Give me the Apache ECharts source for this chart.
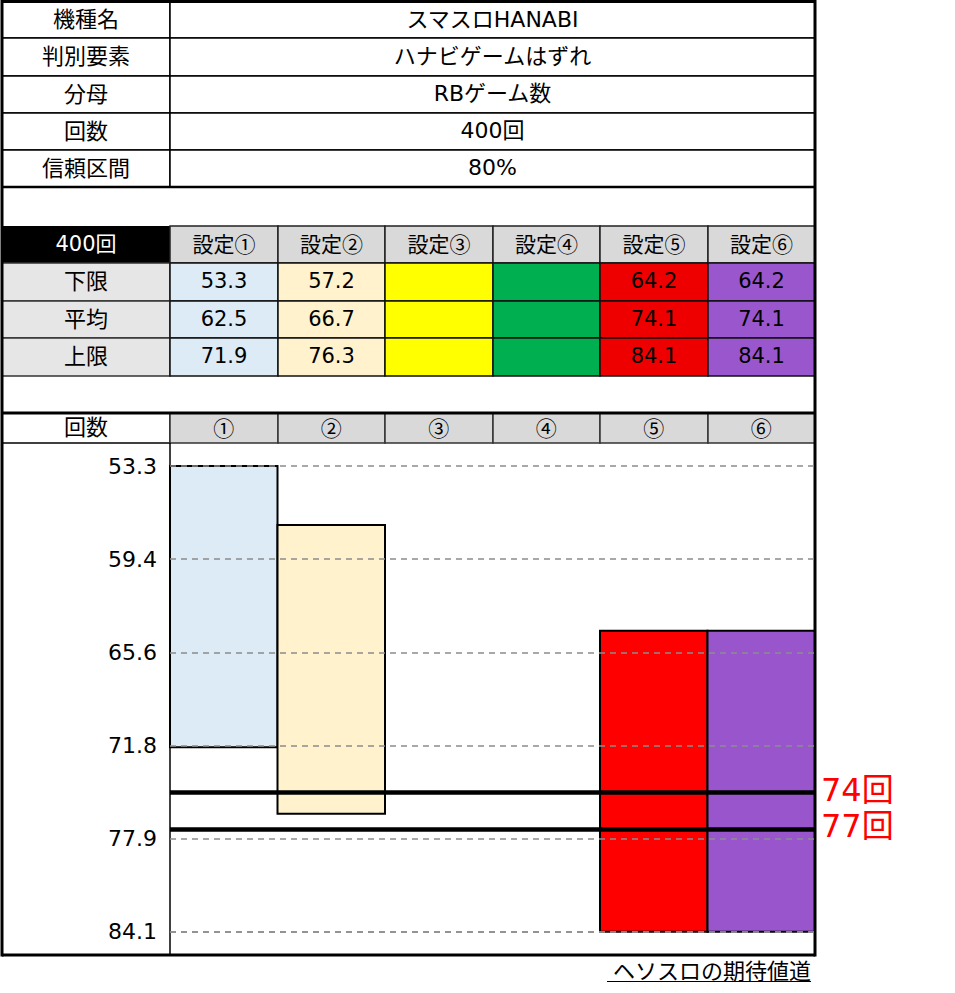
<!DOCTYPE html>
<html><head><meta charset="utf-8">
<script src="https://cdn.jsdelivr.net/npm/echarts@6/dist/echarts.min.js"></script>
<style>html,body{margin:0;padding:0;background:#fff}#c{width:955px;height:993px}</style>
</head><body><div id="c"></div>
<script>
// ---- data ----
const infoLabels = ['機種名', '判別要素', '分母', '回数', '信頼区間'];
const infoValues = ['スマスロHANABI', 'ハナビゲームはずれ', 'RBゲーム数', '400回', '80%'];
const sampleLabel = '400回';
const settingNames = ['設定①', '設定②', '設定③', '設定④', '設定⑤', '設定⑥'];
const rowNames = ['下限', '平均', '上限'];
const lowerBound = [53.3, 57.2, null, null, 64.2, 64.2];
const meanValue = [62.5, 66.7, null, null, 74.1, 74.1];
const upperBound = [71.9, 76.3, null, null, 84.1, 84.1];
const chartHeader = '回数';
const categories = ['①', '②', '③', '④', '⑤', '⑥'];
const yTickLabels = ['53.3', '59.4', '65.6', '71.8', '77.9', '84.1'];
const yMin = 53.3, yMax = 84.1;
const refLines = [74.9, 77.3];
const refLabels = ['74回', '77回'];
const credit = 'ヘソスロの期待値道';

// ---- styles / layout ----
const cellColors = ['#ddebf7', '#fff2cc', '#ffff00', '#00b050', '#ee0000', '#9a57cd'];
const barColors = ['#ddebf7', '#fff2cc', '#ffff00', '#00b050', '#ff0000', '#9955cc'];
const JP = "'Noto Sans CJK JP', sans-serif";
const NUM = "'DejaVu Sans', 'Noto Sans CJK JP', sans-serif";
const X0 = 2, XS = 170, XR = 815;
const colEdges = [170, 278, 385, 493, 600, 708, 815];
const infoRows = [2, 38, 76, 113, 150, 187];
const setRows = [226, 263, 301, 338, 376];
const headRow = [413, 443];
const chartBottom = 955;
const JP_DY = -3, NUM_DY = -1;

const els = [];
function rect(x, y, w, h, fill, stroke, lw) {
  els.push({ type: 'rect', z: 1, shape: { x, y, width: w, height: h },
    style: { fill, stroke: stroke || null, lineWidth: lw || 0 } });
}
function text(t, x, y, font, size, color, align) {
  els.push({ type: 'text', z: 5, x, y: y + (font === JP ? JP_DY : NUM_DY),
    style: { text: t, fill: color || '#000', font: size + 'px ' + font,
      align: align || 'center', verticalAlign: 'middle',
      textAlign: align || 'center', textVerticalAlign: 'middle' } });
}
function line(x1, y1, x2, y2, lw, color) {
  els.push({ type: 'line', z: 6, shape: { x1, y1, x2, y2 },
    style: { stroke: color || '#000', lineWidth: lw } });
}

// info table
for (let i = 0; i < infoLabels.length; i++) {
  const y = infoRows[i], h = infoRows[i + 1] - y;
  rect(X0, y, XS - X0, h, '#fff', '#000', 1.5);
  rect(XS, y, XR - XS, h, '#fff', '#000', 1.5);
  text(infoLabels[i], (X0 + XS) / 2, y + h / 2, JP, 22);
  text(infoValues[i], (XS + XR) / 2, y + h / 2, NUM, 22);
}
line(X0, infoRows[5], XR, infoRows[5], 2.5);

// settings table
rect(X0, setRows[0], XS - X0, setRows[1] - setRows[0], '#000');
text(sampleLabel, (X0 + XS) / 2, (setRows[0] + setRows[1]) / 2, NUM, 21, '#fff');
for (let c = 0; c < settingNames.length; c++) {
  const x = colEdges[c], w = colEdges[c + 1] - x;
  rect(x, setRows[0], w, setRows[1] - setRows[0], '#d9d9d9', '#222', 1.5);
  text(settingNames[c], x + w / 2, (setRows[0] + setRows[1]) / 2 + 1, JP, 21);
}
const tableRows = [lowerBound, meanValue, upperBound];
for (let r = 0; r < rowNames.length; r++) {
  const y = setRows[r + 1], h = setRows[r + 2] - y;
  rect(X0, y, XS - X0, h, '#e7e6e6', '#333', 1.5);
  text(rowNames[r], (X0 + XS) / 2, y + h / 2, JP, 22);
  for (let c = 0; c < settingNames.length; c++) {
    const x = colEdges[c], w = colEdges[c + 1] - x;
    rect(x, y, w, h, cellColors[c], '#111', 1.5);
    const v = tableRows[r][c];
    if (v != null) text(v.toFixed(1), x + w / 2, y + h / 2, NUM, 21);
  }
}

// chart header row
line(X0, headRow[0], XR, headRow[0], 3);
rect(X0, headRow[0], XS - X0, headRow[1] - headRow[0], '#fff', '#000', 1.5);
text(chartHeader, (X0 + XS) / 2, (headRow[0] + headRow[1]) / 2, JP, 22);
for (let c = 0; c < categories.length; c++) {
  const x = colEdges[c], w = colEdges[c + 1] - x;
  rect(x, headRow[0], w, headRow[1] - headRow[0], '#d9d9d9', '#333', 1.5);
}
// chart frame
line(XS, headRow[1], XS, chartBottom, 1.5);
line(X0, chartBottom, XR, chartBottom, 3);
// outer borders
line(X0, 0, X0, chartBottom + 1.5, 3);
line(XR, 0, XR, chartBottom + 1.5, 3);
line(X0, 1.5, XR, 1.5, 3);
// credit
text(credit, 811, 972, JP, 22, '#000', 'right');
line(607, 981.5, 811, 981.5, 1, '#000');

const interval = (yMax - yMin) / (yTickLabels.length - 1);
const barData = [];
categories.forEach((c, i) => {
  if (lowerBound[i] != null && upperBound[i] != null) barData.push([i, lowerBound[i], upperBound[i]]);
});

const chart = echarts.init(document.getElementById('c'), null, { renderer: 'svg' });
chart.setOption({
  animation: false,
  backgroundColor: '#fff',
  grid: { left: XS, width: XR - XS, top: 466, height: 465.7 },
  xAxis: {
    type: 'category', data: categories, position: 'top', z: 10,
    axisLine: { show: false }, axisTick: { show: false }, splitLine: { show: false },
    axisLabel: { color: '#000', fontSize: 21, fontFamily: JP, margin: 39, verticalAlign: 'middle' }
  },
  yAxis: {
    type: 'value', inverse: true, min: yMin, max: yMax, interval: interval, z: 8,
    axisLine: { show: false }, axisTick: { show: false },
    axisLabel: {
      color: '#000', fontSize: 22, fontFamily: NUM, margin: 13, verticalAlign: 'middle',
      padding: [0, 0, 5, 0],
      formatter: (v) => yTickLabels[Math.round((v - yMin) / interval)]
    },
    splitLine: { show: true, lineStyle: { color: '#8c8c8c', width: 1.5, type: [6, 5] } }
  },
  graphic: { elements: els },
  series: [{
    type: 'custom',
    z: 3,
    encode: { x: 0, y: [1, 2] },
    data: barData,
    renderItem: function (params, api) {
      const idx = api.value(0);
      const p1 = api.coord([idx, api.value(1)]);
      const p2 = api.coord([idx, api.value(2)]);
      const w = api.size([1, 0])[0];
      return {
        type: 'rect',
        shape: { x: p1[0] - w / 2, y: p1[1], width: w, height: p2[1] - p1[1] },
        style: { fill: barColors[idx], stroke: '#000', lineWidth: 2 }
      };
    },
    markLine: {
      silent: true, symbol: 'none', z: 9,
      lineStyle: { color: '#000', width: 4.5, type: 'solid' },
      label: { position: 'end', formatter: '{b}', color: '#ff0000', fontSize: 32, fontFamily: NUM,
        distance: 6, offset: [0, -3] },
      data: refLines.map((v, i) => ({ yAxis: v, name: refLabels[i] }))
    }
  }]
});
</script>
</body></html>
